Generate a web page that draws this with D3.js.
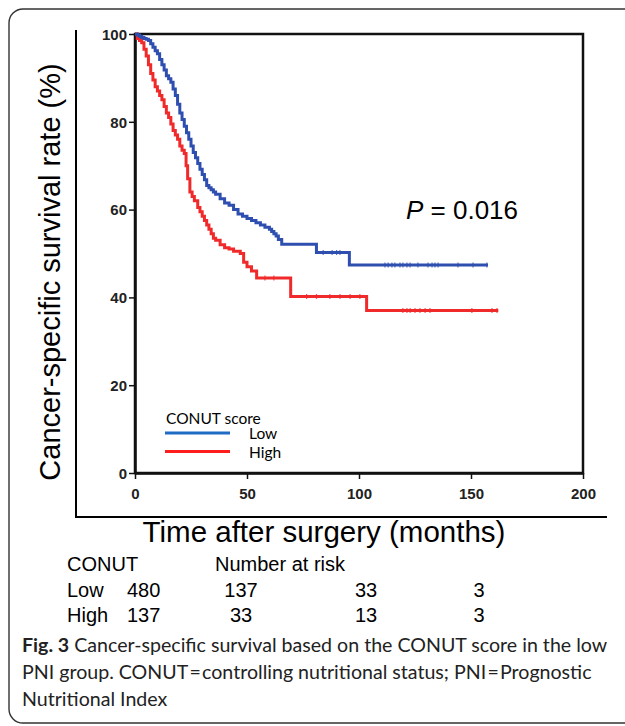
<!DOCTYPE html>
<html><head><meta charset="utf-8">
<script src="https://cdn.jsdelivr.net/npm/d3@7"></script>
<style>body{margin:0;background:#fff}svg{display:block}</style>
</head><body><svg id="c" width="625" height="726"></svg>
<script>
// ---- data ----
const lowTimes  = [0,1,2,3,4,5,6,7,8,9,10,11,12,13,14,15,16,17,18,19,20,21,22,23,24,25,26,27,28,29,30,31,32,33,34,35,36,38,40,42,44,46,48,50,52,54,56,58,60,61,62,63,64,65.5,81,95.7,157.6];
const lowSurv   = [100,99.8,99.5,99.2,99,98.8,98.5,97.8,97,96.2,95.5,94.2,93,91.8,90.5,89.8,89,87.5,86,84,82,80.5,79,77.5,76,74.5,73,71.8,70.5,69.2,68,66.8,65.5,65,64.5,64,63.5,62.5,61.5,61,60,59,58.5,58,57.5,57,56.5,56,55.5,55,54.5,54,53.2,52.1,50.2,47.4,47.4];
const highTimes = [0,1,2,3,4,5,6,7,8,9,10,11,12,13,14,15,16,17,18,19,20,21,22,22.8,23.5,24.5,25.5,26.5,28,29,30,31,32,33,34,35,36,38,40,42,44,47,48.5,50,52,54.3,69.5,103.4,162.2];
const highSurv  = [100,99,98.5,98,96.5,95,93,91,89.5,88,87,86,85,83.5,82,81,79.5,78,77,76,74.5,73.5,72.8,70,67,64,63,62,60.5,59.5,58.5,57.5,56.5,55.5,54.5,53.5,53,52,51.3,51,50.5,50,48,47,46,44.4,40.2,37,37];
const lowCensor  = [84,88,90,91.5,111.6,113,114.7,116,118.3,119.6,121.4,122.8,126.3,130.8,132.6,133.9,135.3,144.2,150.9,157.1];
const highCensor = [58,62,76.6,81,87,91.5,96,100.4,119.6,121.4,122.8,125,127.2,129.5,131.7,150.4,159.4,161.6];
const xTicks = [0,50,100,150,200];
const yTicks = [0,20,40,60,80,100];
const groups = ["Low","High"];
const riskLow  = ["480","137","33","3"];
const riskHigh = ["137","33","13","3"];
const pText = "0.016";

// ---- drawing ----
const svg = d3.select("#c");
const L=135,R=583,T=34,B=473;
const x = d3.scaleLinear().domain([0,200]).range([L,R]);
const y = d3.scaleLinear().domain([0,100]).range([B,T]);
const colors = {Low:"#2e4fb0", High:"#f02a2a"};
const legendColors = {Low:"#1f6cc4", High:"#ff1e1e"};

// outer rounded frame
svg.append("rect").attr("x",9).attr("y",9).attr("width",650).attr("height",714)
  .attr("rx",14).attr("fill","none").attr("stroke","#333").attr("stroke-width",1.4);
// L frame
svg.append("path").attr("d","M76,30V517H607").attr("fill","none").attr("stroke","#000").attr("stroke-width",2);

// plot box
svg.append("rect").attr("x",L).attr("y",T).attr("width",R-L).attr("height",B-T)
  .attr("fill","none").attr("stroke","#111").attr("stroke-width",2.5);

const fTick = "'Liberation Sans', Arial, sans-serif";
const ax = svg.append("g").attr("transform",`translate(0,${B})`)
  .call(d3.axisBottom(x).tickValues(xTicks).tickSize(6).tickSizeOuter(0).tickPadding(6));
const ay = svg.append("g").attr("transform",`translate(${L},0)`)
  .call(d3.axisLeft(y).tickValues(yTicks).tickSize(6).tickSizeOuter(0).tickPadding(2));
[ax,ay].forEach(g=>{
  g.select(".domain").attr("stroke","#111").attr("stroke-width",2.5);
  g.selectAll(".tick line").attr("stroke","#111").attr("stroke-width",1.5);
  g.selectAll(".tick text").attr("font-family",fTick).attr("font-size",15).attr("font-weight","bold").attr("fill","#222");
});
ax.selectAll(".tick text").attr("dy","0.9em");
ay.selectAll(".tick text").attr("dy","0.35em");

// curves
const line = d3.line().x(d=>x(d[0])).y(d=>y(d[1])).curve(d3.curveStepAfter);
const series = {
  Low: lowTimes.map((t,i)=>[t,lowSurv[i]]),
  High: highTimes.map((t,i)=>[t,highSurv[i]])
};
function survAt(arr,t){let s=arr[0][1];for(const p of arr){if(p[0]<=t)s=p[1];}return s;}
groups.slice().reverse().forEach(g=>{
  svg.append("path").datum(series[g]).attr("d",line).attr("fill","none")
    .attr("stroke",colors[g]).attr("stroke-width",3);
});
const censor = {Low:lowCensor, High:highCensor};
groups.forEach(g=>{
  svg.append("g").selectAll("line").data(censor[g]).join("line")
    .attr("x1",d=>x(d)).attr("x2",d=>x(d))
    .attr("y1",d=>y(survAt(series[g],d))-2.5).attr("y2",d=>y(survAt(series[g],d))+2.5)
    .attr("stroke",colors[g]).attr("stroke-width",1.2).attr("opacity",0.8);
});

// P value
const pt = svg.append("text").attr("x",406).attr("y",219).attr("font-family",fTick).attr("font-size",26).attr("fill","#000");
pt.append("tspan").attr("font-style","italic").text("P");
pt.append("tspan").text(" = "+pText);

// legend
const fLeg = "Lato, 'Open Sans', sans-serif";
svg.append("text").attr("x",166).attr("y",424).attr("font-family",fLeg).attr("font-size",15.5).text("CONUT score");
groups.forEach((g,i)=>{
  const yy = 433 + i*18.5;
  svg.append("line").attr("x1",165).attr("x2",230).attr("y1",yy).attr("y2",yy)
    .attr("stroke",legendColors[g]).attr("stroke-width",3);
  svg.append("text").attr("x",249).attr("y",yy+6).attr("font-family",fLeg).attr("font-size",15.5).text(g);
});

// axis titles
svg.append("text").attr("transform","translate(60,272) rotate(-90)").attr("text-anchor","middle")
  .attr("font-family",fTick).attr("font-size",29).text("Cancer-specific survival rate (%)");
svg.append("text").attr("x",324).attr("y",542).attr("text-anchor","middle")
  .attr("font-family",fTick).attr("font-size",29.5).text("Time after surgery (months)");

// risk table
const fR = fTick, rs = 20;
svg.append("text").attr("x",67).attr("y",571).attr("font-family",fR).attr("font-size",rs).text("CONUT");
svg.append("text").attr("x",215).attr("y",571).attr("font-family",fR).attr("font-size",rs).text("Number at risk");
const colX = [127,241,366,479];
[[groups[0],riskLow],[groups[1],riskHigh]].forEach(([g,vals],i)=>{
  const yy = 597 + i*24.5;
  svg.append("text").attr("x",67).attr("y",yy).attr("font-family",fR).attr("font-size",rs).text(g);
  vals.forEach((v,j)=>{
    svg.append("text").attr("x",colX[j]).attr("y",yy).attr("text-anchor",j>0?"middle":"start")
      .attr("font-family",fR).attr("font-size",rs).text(v);
  });
});

// caption
const fC = "Lato, 'Open Sans', sans-serif";
const cap = svg.append("g").attr("font-family",fC).attr("font-size",19.6).attr("fill","#222");
const c1 = cap.append("text").attr("x",22).attr("y",652);
c1.append("tspan").attr("font-weight","bold").text("Fig. 3");
c1.append("tspan").text(" Cancer-specific survival based on the CONUT score in the low");
cap.append("text").attr("x",22).attr("y",679)
  .text("PNI group. CONUT\u200A=\u200Acontrolling nutritional status; PNI\u200A=\u200APrognostic");
cap.append("text").attr("x",22).attr("y",706).text("Nutritional Index");
</script></body></html>
